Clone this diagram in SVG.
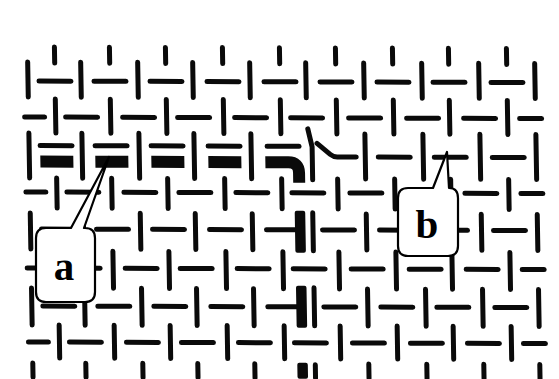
<svg xmlns="http://www.w3.org/2000/svg" width="559" height="379" viewBox="0 0 559 379">
<style>
.t{fill:none;stroke:#0a0a0a;stroke-width:5;stroke-linecap:round;stroke-linejoin:round}
.k{fill:none;stroke:#0a0a0a;stroke-width:12;stroke-linecap:butt;stroke-linejoin:round}
.kr{fill:#0a0a0a}
.co{fill:#fff;stroke:#000;stroke-width:2.2;stroke-linejoin:round}
.lb{font-family:"Liberation Serif","Times New Roman",serif;font-weight:bold;font-size:41px;fill:#000;text-anchor:middle}
</style>
<rect x="0" y="0" width="559" height="379" fill="#fff"/>
<g id="weave" transform="matrix(1 0.003 0.017 1 -1.38 -0.08)">
<path id="row0" class="t" d="M55,47V63 M110,47V63 M166,47V63 M223,47V63 M280,47V63 M336,47V63 M393,47V63 M449,47V63 M507,47V63"/>
<path id="row1" class="t" d="M39,81H71 M94,81H126 M150,81H182 M207,81H239 M264,81H296 M320,81H352 M377,81H409 M433,81H465 M491,81H523 M28,62V97 M81,62V97 M138,62V97 M193,62V97 M250,62V97 M306,62V97 M364,62V97 M422,62V97 M479,62V97 M535,62V97"/>
<path id="row2" class="t" d="M24,117H44 M65,117H97 M122,117H154 M177,117H209 M234,117H266 M290,117H322 M348,117H380 M406,117H438 M463,117H495 M519,117H541 M55,99V133 M110,99V133 M166,99V133 M223,99V133 M280,99V133 M336,99V133 M393,99V133 M449,99V133 M507,99V133"/>
<path id="row3" class="t" d="M28,133V178 M81,133V178 M138,133V178 M193,133V178 M250,133V178 M364,133V178 M422,133V178 M479,133V178 M535,133V178 M377,156H409 M433,156H465 M491,156H523 M39,145.5H71 M94,145.5H126 M150,145.5H182 M207,145.5H239 M266,145.5H298 M307,128L311,146V179 M316,142.5L329,153.5Q332,156 336,156H355"/>
<path id="row3-thick" class="k" d="M39,161.5H72 M94,161.5H127 M150,161.5H183 M207,161.5H240 M264,161.5H287Q297.5,161.5 297.5,172V182"/>
<path id="row4" class="t" d="M24,192H44 M65,192H97 M122,192H154 M177,192H209 M234,192H266 M290,192H322 M348,192H380 M406,192H438 M463,192H495 M519,192H541 M55,178V208 M110,178V208 M166,178V208 M223,178V208 M280,178V208 M336,178V208 M393,178V208 M449,178V208 M507,178V208"/>
<path id="row5" class="t" d="M39,229H71 M94,229H126 M150,229H182 M207,229H239 M264,229H296 M320,229H352 M377,229H409 M433,229H465 M491,229H523 M28,213V249 M81,213V249 M138,213V249 M193,213V249 M250,213V249 M364,213V249 M422,213V249 M479,213V249 M535,213V249 M310.5,212V250"/>
<path id="row6" class="t" d="M24,268H44 M65,268H97 M122,268H154 M177,268H209 M234,268H266 M290,268H322 M348,268H380 M406,268H438 M463,268H495 M519,268H541 M55,251V288 M110,251V288 M166,251V288 M223,251V288 M280,251V288 M336,251V288 M393,251V288 M449,251V288 M507,251V288"/>
<path id="row7" class="t" d="M39,306H71 M94,306H126 M150,306H182 M207,306H239 M264,306H296 M320,306H352 M377,306H409 M433,306H465 M491,306H523 M28,288V325 M81,288V325 M138,288V325 M193,288V325 M250,288V325 M364,288V325 M422,288V325 M479,288V325 M535,288V325 M310.5,287V325"/>
<path id="row8" class="t" d="M24,342H44 M65,342H97 M122,342H154 M177,342H209 M234,342H266 M290,342H322 M348,342H380 M406,342H438 M463,342H495 M519,342H541 M55,325V358 M110,325V358 M166,325V358 M223,325V358 M280,325V358 M336,325V358 M393,325V358 M449,325V358 M507,325V358"/>
<path id="row9" class="t" d="M28,363V377 M81,363V377 M138,363V377 M193,363V377 M250,363V377 M364,363V377 M422,363V377 M479,363V377 M535,363V377 M310.5,364V377"/>
<g id="thick-warp" class="kr">
<rect x="292.5" y="210" width="10.5" height="42" rx="2"/>
<rect x="292.5" y="285" width="10.5" height="42" rx="2"/>
<rect x="292.5" y="362" width="10.5" height="16" rx="2"/>
</g>
</g>
<g id="callout-a">
<path class="co" d="M46,228H71L109,157L84,228H85Q95,228 95,238V292Q95,302 85,302H46Q36,302 36,292V238Q36,228 46,228Z"/>
<text class="lb" x="64" y="280">a</text>
</g>
<g id="callout-b">
<path class="co" d="M408,188H433L447,152L449,188Q458,188 458,198V246Q458,256 448,256H408Q398,256 398,246V198Q398,188 408,188Z"/>
<text class="lb" x="427" y="238">b</text>
</g>
</svg>
